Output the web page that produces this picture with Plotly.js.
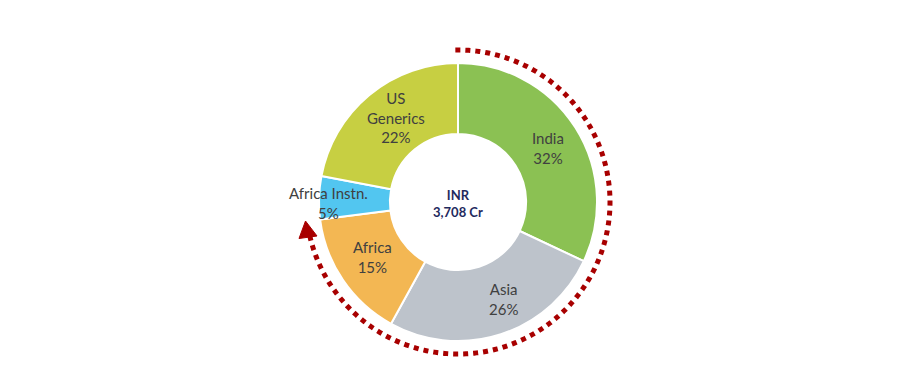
<!DOCTYPE html>
<html>
<head>
<meta charset="utf-8">
<script src="https://cdn.plot.ly/plotly-3.0.1.min.js"></script>
<style>html,body{margin:0;padding:0;background:#fff;}#chart{width:906px;height:391px;}</style>
</head>
<body>
<div id="chart"></div>
<script>
const categories = ["India", "Asia", "Africa", "Africa Instn.", "US Generics"];
const displayLabels = ["India", "Asia", "Africa", "Africa Instn.", "US<br>Generics"];
const shares = [32, 26, 15, 5, 22];
const centerLabel = ["INR", "3,708 Cr"];

const colors = ["#8BC153", "#BDC3CB", "#F3B753", "#52C6F0", "#C7CF42"];
const W = 906, H = 391;
const cx = 458, cy = 202, R = 139;

const px = x => x / W;
const py = y => 1 - y / H;

// label anchor points (pixel), in slice order
const labelPos = [[548, 148], [504, 299], [372, 257], [328, 203], [396, 118]];

const trace = {
  type: "pie",
  values: shares,
  labels: categories,
  textposition: "none",
  sort: false,
  direction: "clockwise",
  rotation: 0,
  hole: 0.49,
  marker: {colors: colors, line: {color: "#ffffff", width: 2}},
  domain: {x: [px(cx - R), px(cx + R)], y: [py(cy + R), py(cy - R)]},
  showlegend: false,
  hoverinfo: "label+percent"
};

// decorative dotted arc with arrow
const rA = 152, a0 = -1, a1 = 257;
let path = "";
for (let a = a0; a <= a1; a += 1) {
  const t = a * Math.PI / 180;
  const x = cx + rA * Math.sin(t), y = cy - rA * Math.cos(t);
  path += (path ? " L " : "M ") + px(x).toFixed(5) + "," + py(y).toFixed(5);
}
const arrow = "M " + px(305.5) + "," + py(221) + " L " + px(299) + "," + py(238.5) +
              " L " + px(317) + "," + py(236) + " Z";

const font = {family: "Lato, 'Open Sans', sans-serif", size: 15, color: "#404040"};
const annotations = categories.map((c, i) => ({
  xref: "paper", yref: "paper", x: px(labelPos[i][0]), y: py(labelPos[i][1]),
  xanchor: "center", yanchor: "middle", showarrow: false,
  text: displayLabels[i] + "<br>" + shares[i] + "%", font: font
}));
annotations.push({
  xref: "paper", yref: "paper", x: px(cx), y: py(203.5), xanchor: "center", yanchor: "middle",
  text: "<b>" + centerLabel[0] + "</b><br><b>" + centerLabel[1] + "</b>", showarrow: false,
  font: {family: "Lato, 'Open Sans', sans-serif", size: 13, color: "#1F2A5E"}
});

const layout = {
  width: W, height: H,
  margin: {l: 0, r: 0, t: 0, b: 0},
  paper_bgcolor: "#ffffff",
  showlegend: false,
  shapes: [
    {type: "path", xref: "paper", yref: "paper", path: path,
     line: {color: "#A80000", width: 5, dash: "5px,5px"}, layer: "above"},
    {type: "path", xref: "paper", yref: "paper", path: arrow,
     fillcolor: "#A80000", line: {color: "#A80000", width: 1}, layer: "above"}
  ],
  annotations: annotations
};

Plotly.newPlot("chart", [trace], layout, {displayModeBar: false, staticPlot: true});
</script>
</body>
</html>
